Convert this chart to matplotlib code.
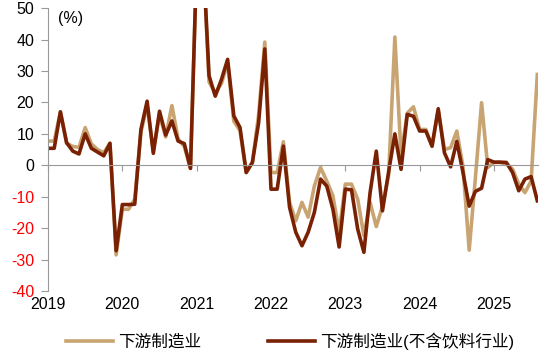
import numpy as np
import matplotlib
matplotlib.use("Agg")
import matplotlib.pyplot as plt

plt.rcParams['font.family'] = ['Liberation Sans', 'Noto Sans CJK SC', 'DejaVu Sans']

# monthly, starting 2019-01
start_year = 2019
downstream = [7.7, 7.7, 17.0, 7.0, 6.0, 5.7, 12.0, 6.8, 5.0, 4.0,
              7.0, -28.5, -14.0, -14.0, -10.8, 10.5, 19.0, 4.5, 16.0, 9.0,
              19.0, 8.4, 6.0, -1.0, 65.0, 68.0, 26.5, 23.0, 26.0, 32.6,
              14.0, 11.0, -2.3, 1.0, 16.0, 39.2, -2.3, -2.3, 7.5, -11.8,
              -17.7, -11.8, -16.5, -6.6, -0.7, -5.0, -9.7, -21.4, -6.0, -6.0,
              -10.8, -22.4, -11.8, -19.5, -13.0, -3.0, 40.8, 3.0, 16.6, 18.6,
              11.4, 11.4, 6.0, 17.5, 5.0, 5.6, 10.9, -0.4, -27.0, -4.0,
              19.9, -0.7, 0.9, 0.9, 0.4, -1.2, -6.0, -8.7, -5.0, 28.9]
downstream_ex_bev = [5.4, 5.4, 17.0, 7.2, 4.5, 3.6, 10.0, 5.4, 4.2, 3.0,
                     7.0, -27.2, -12.5, -12.5, -12.4, 11.4, 20.4, 3.8, 17.2, 9.6,
                     14.1, 7.7, 6.9, -1.0, 65.0, 68.0, 28.5, 22.0, 27.3, 33.7,
                     15.7, 12.0, -2.3, 0.9, 13.5, 37.0, -7.6, -7.6, 6.1, -13.4,
                     -21.3, -25.6, -21.3, -15.0, -4.4, -6.6, -14.0, -26.0, -7.6, -7.8,
                     -20.3, -27.7, -8.7, 4.5, -14.5, -2.0, 10.0, -1.3, 16.2, 15.6,
                     10.9, 10.9, 6.1, 18.0, 4.0, -0.5, 7.6, -2.3, -13.0, -8.3,
                     -7.3, 1.8, 1.0, 1.0, 0.9, -2.3, -8.1, -4.4, -3.6, -11.3]
year_ticks = [2019, 2020, 2021, 2022, 2023, 2024, 2025]
y_ticks = [-40, -30, -20, -10, 0, 10, 20, 30, 40, 50]

x = start_year + np.arange(len(downstream)) / 12

fig = plt.figure(figsize=(5.5, 3.54), dpi=100)
ax = fig.add_axes([0.0873, 0.178, 0.891, 0.799])

ax.plot(x, downstream, color='#C9A473', lw=2.6, label='下游制造业')
ax.plot(x, downstream_ex_bev, color='#7A2104', lw=2.6, label='下游制造业(不含饮料行业)')

ax.set_xlim(2019, x[-1] + 0.01)
ax.set_ylim(-40, 50)
ax.set_yticks(y_ticks)
ax.set_yticklabels([str(v) for v in y_ticks])

for s in ['top', 'right']:
    ax.spines[s].set_visible(False)
ax.spines['left'].set_color('#999999')
ax.spines['bottom'].set_position(('data', 0))
ax.spines['bottom'].set_color('#999999')
ax.tick_params(axis='y', colors='#999999', length=5, labelsize=11.5, pad=5)
for lab, v in zip(ax.get_yticklabels(), y_ticks):
    lab.set_color('red' if v < 0 else 'black')
ax.set_xticks(year_ticks)
ax.tick_params(axis='x', colors='#999999', length=4, labelbottom=False)

# year labels sit under the plot, tick marks stay on the zero line
sec = ax.secondary_xaxis(0)
sec.set_xticks(year_ticks)
sec.set_xticklabels([str(y) for y in year_ticks])
sec.tick_params(length=0, labelsize=11.5, pad=4, labelcolor='black')
sec.spines['bottom'].set_visible(False)

ax.text(0.02, 0.99, '(%)', transform=ax.transAxes, fontsize=11.5, va='top', ha='left')

ax.legend(loc='center', bbox_to_anchor=(0.494, -0.177), ncol=2, frameon=False,
          fontsize=12, handlelength=2.8, columnspacing=4.0, handletextpad=0.3)

fig.savefig('out.png', dpi=100)
